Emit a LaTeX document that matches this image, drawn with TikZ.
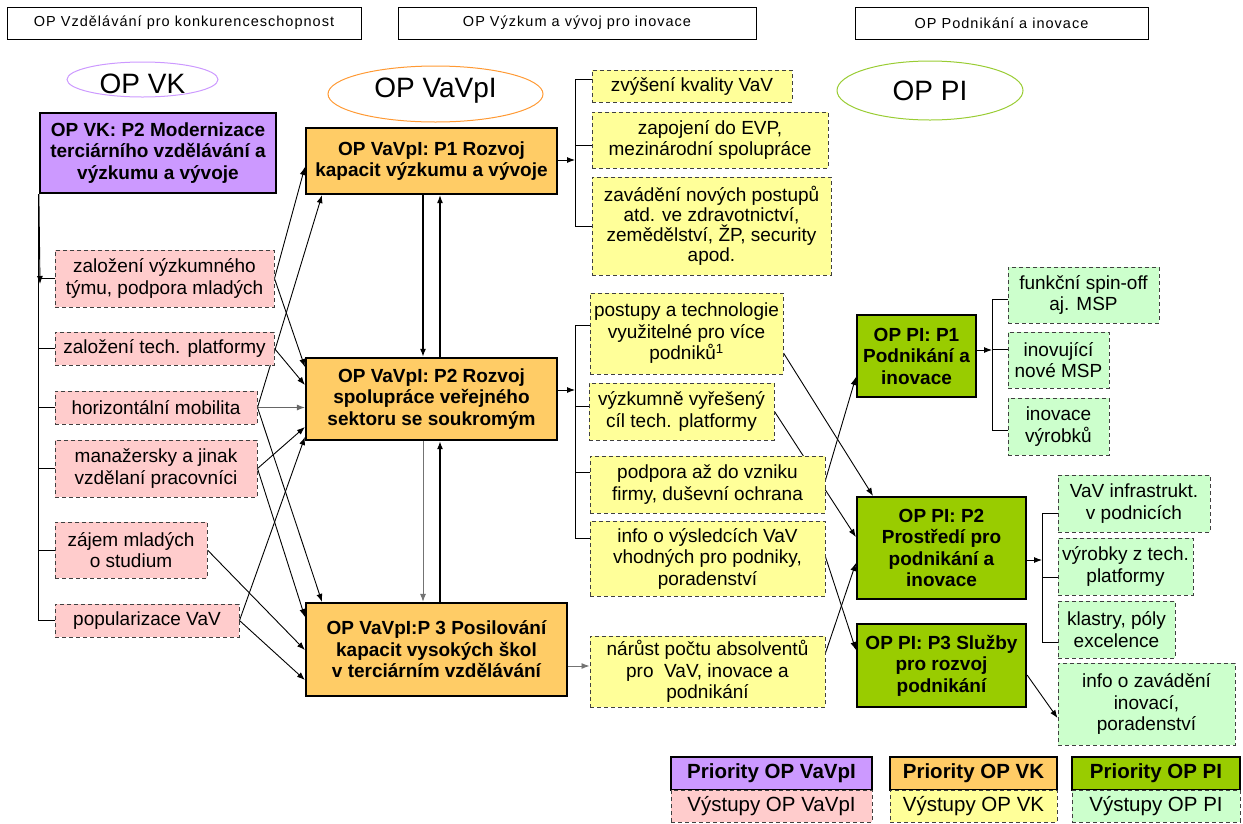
\documentclass[tikz,border=0pt]{standalone}
\usepackage{fontspec}
\setmainfont{Liberation Sans}
\newfontfamily\hdrfam[LetterSpace=7]{Liberation Sans}
\usetikzlibrary{arrows.meta,shapes.geometric,backgrounds}
\definecolor{cPurple}{HTML}{CC99FF}
\definecolor{cOrange}{HTML}{FFCC66}
\definecolor{cGreen}{HTML}{99CC00}
\definecolor{cPink}{HTML}{FFCCCC}
\definecolor{cYellow}{HTML}{FFFF99}
\definecolor{cLGreen}{HTML}{CCFFCC}
\definecolor{ePurple}{HTML}{CC99FF}
\definecolor{eOrange}{HTML}{FF9933}
\definecolor{eGreen}{HTML}{99CC33}
\newcommand\txtN{\fontsize{19}{21.5}\selectfont}
\newcommand\txtB{\fontsize{19}{21.5}\selectfont\bfseries}
\newcommand\txtH{\fontsize{14.5}{16}\hdrfam\selectfont}
\newcommand\txtE{\fontsize{28}{30}\selectfont}
\newcommand\txtL{\fontsize{20.5}{22}\selectfont}
\newcommand\mkbox[7]{\node[#2, minimum width={(#5-#3)*1pt}, minimum height={(#6-#4)*1pt}] (#1) at ({(#3+#5)/2},{(#4+#6)/2}) {#7};}
\tikzset{
  base/.style={rectangle, inner sep=0pt, align=center, font=\txtN},
  prio/.style={base, draw=black, line width=2.2pt, font=\txtB},
  outp/.style={base, draw=black!75, dash pattern=on 4pt off 3pt, line width=1pt},
  hdr/.style={base, draw=black, line width=1pt, font=\txtH},
  ell/.style={ellipse, line width=1pt, inner sep=0pt},
  arr/.style={-{Latex[length=8pt,width=6pt]}, line width=0.9pt},
  ln/.style={line width=0.9pt},
}
\begin{document}
\begin{tikzpicture}[x=1pt,y=-1pt]
\useasboundingbox (0,0) rectangle (1243,823);
% headers
\mkbox{H1}{hdr}{7}{7}{361}{39}{OP Vzdělávání pro konkurenceschopnost}
\mkbox{H2}{hdr}{398}{7}{756}{39}{OP Výzkum a vývoj pro inovace}
\mkbox{H3}{hdr}{855}{7}{1148}{39}{OP Podnikání a inovace}
% ellipses
\node[ell, draw=ePurple, minimum width=151pt, minimum height=35pt, label={[font=\txtE, yshift=-4pt]center:OP VK}] (E1) at (142.5,79.5) {};
\node[ell, draw=eOrange, minimum width=215pt, minimum height=56pt, label={[font=\txtE, yshift=3pt]center:OP VaVpI}] (E2) at (435.5,94) {};
\node[ell, draw=eGreen, minimum width=186pt, minimum height=59pt, label={[font=\txtE]center:OP PI}] (E3) at (930,90.5) {};
% left column
\mkbox{P}{prio,fill=cPurple}{40}{113}{276}{193}{OP VK: P2 Modernizace\\terciárního vzdělávání a\\výzkumu a vývoje}
\mkbox{L1}{outp,fill=cPink}{55}{250}{274}{307}{založení výzkumného\\týmu, podpora mladých}
\mkbox{L2}{outp,fill=cPink}{55}{332}{274}{365}{založení tech. platformy}
\mkbox{L3}{outp,fill=cPink}{55}{391}{257}{424}{horizontální mobilita}
\mkbox{L4}{outp,fill=cPink}{55}{440}{257}{497}{manažersky a jinak\\vzdělaní pracovníci}
\mkbox{L5}{outp,fill=cPink}{55}{522}{207}{578}{zájem mladých\\o studium}
\mkbox{L6}{outp,fill=cPink}{55}{604}{239}{637}{popularizace VaV}
% middle column
\mkbox{M1}{prio,fill=cOrange}{306}{128}{557}{194}{OP VaVpI: P1 Rozvoj\\kapacit výzkumu a vývoje}
\mkbox{M2}{prio,fill=cOrange}{306}{358}{557}{440}{OP VaVpI: P2 Rozvoj\\spolupráce veřejného\\sektoru se soukromým}
\mkbox{M3}{prio,fill=cOrange}{306}{603}{567}{696}{OP VaVpI:P 3 Posilování\\kapacit vysokých škol\\v terciárním vzdělávání}
% yellow outputs
\mkbox{Y1}{outp,fill=cYellow}{592}{70}{792}{102}{zvýšení kvality VaV}
\mkbox{Y2}{outp,fill=cYellow}{592}{112}{828}{168}{zapojení do EVP,\\mezinárodní spolupráce}
\mkbox{Y3}{outp,fill=cYellow,font=\fontsize{19}{20}\selectfont}{592}{177}{831}{275}{zavádění nových postupů\\atd. ve zdravotnictví,\\zemědělství, ŽP, security\\apod.}
\mkbox{Y4}{outp,fill=cYellow}{590}{293}{783}{374}{postupy a technologie\\využitelné pro více\\podniků\textsuperscript{1}}
\mkbox{Y5}{outp,fill=cYellow}{589}{383}{774}{440}{výzkumně vyřešený\\cíl tech. platformy}
\mkbox{Y6}{outp,fill=cYellow}{590}{456}{825}{513}{podpora až do vzniku\\firmy, duševní ochrana}
\mkbox{Y7}{outp,fill=cYellow}{590}{521}{825}{596}{info o výsledcích VaV\\vhodných pro podniky,\\poradenství}
\mkbox{Y8}{outp,fill=cYellow}{590}{636}{825}{707}{nárůst počtu absolventů\\pro\ \ VaV, inovace a\\podnikání}
% green priorities
\mkbox{G1}{prio,fill=cGreen}{857}{315}{976}{397}{OP PI: P1\\Podnikání a\\inovace}
\mkbox{G2}{prio,fill=cGreen}{857}{497}{1026}{599}{OP PI: P2\\Prostředí pro\\podnikání a\\inovace}
\mkbox{G3}{prio,fill=cGreen}{857}{624}{1026}{707}{OP PI: P3 Služby\\pro rozvoj\\podnikání}
% light green outputs
\mkbox{LG1}{outp,fill=cLGreen}{1008}{267}{1159}{323}{funkční spin-off\\aj. MSP}
\mkbox{LG2}{outp,fill=cLGreen}{1008}{332}{1109}{388}{inovující\\nové MSP}
\mkbox{LG3}{outp,fill=cLGreen}{1008}{398}{1109}{455}{inovace\\výrobků}
\mkbox{LG4}{outp,fill=cLGreen}{1058}{475}{1210}{532}{VaV infrastrukt.\\v podnicích}
\mkbox{LG5}{outp,fill=cLGreen}{1058}{538}{1193}{595}{výrobky z tech.\\platformy}
\mkbox{LG6}{outp,fill=cLGreen}{1058}{601}{1175}{658}{klastry, póly\\excelence}
\mkbox{LG7}{outp,fill=cLGreen}{1058}{663}{1235}{745}{info o zavádění\\inovací,\\poradenství}
% legend
\mkbox{K1}{prio,fill=cPurple,font=\txtL\bfseries}{671}{757}{872}{790}{Priority OP VaVpI}
\mkbox{K2}{outp,fill=cPink,font=\txtL}{671}{790}{872}{822}{Výstupy OP VaVpI}
\mkbox{K3}{prio,fill=cOrange,font=\txtL\bfseries}{890}{757}{1057}{790}{Priority OP VK}
\mkbox{K4}{outp,fill=cYellow,font=\txtL}{890}{790}{1057}{822}{Výstupy OP VK}
\mkbox{K5}{prio,fill=cGreen,font=\txtL\bfseries}{1072}{757}{1240}{790}{Priority OP PI}
\mkbox{K6}{outp,fill=cLGreen,font=\txtL}{1072}{790}{1240}{822}{Výstupy OP PI}
% connectors
\begin{pgfonlayer}{background}
% left bracket
\draw[ln] (P.south west) -- (P.south west |- L6.west) -- (L6.west);
\draw[arr] (P.south west) -- (40,284);
\foreach \n in {L1,L2,L3,L4,L5} \draw[ln] (P.south west |- \n.west) -- (\n.west);
% left -> middle
\draw[arr] (L1.east) -- (M1.west |- 0,167);
\draw[arr] (L1.east) -- (M2.west |- 0,367);
\draw[arr] (L2.east) -- (M2.west |- 0,385);
\draw[arr, draw=black!60] (L3.east) -- (L3.east -| M2.west);
\draw[arr] (L3.east) -- (M1.south -| 322,0);
\draw[arr] (L3.east) -- (M3.north -| 322,0);
\draw[arr] (L4.east) -- (M2.west |- 0,427);
\draw[arr] (L4.east) -- (M3.west |- 0,617);
\draw[arr] (L5.east) -- (M3.west |- 0,650);
\draw[arr] (L6.east) -- (M2.west |- 0,437);
\draw[arr] (L6.east) -- (M3.west |- 0,680);
% middle verticals
\draw[arr, line width=1.7pt] (M1.south -| 423,0) -- (M2.north -| 423,0);
\draw[arr, line width=1.3pt] (M2.north -| 440,0) -- (M1.south -| 440,0);
\draw[arr, draw=black!55, line width=1pt] (M2.south -| 423,0) -- (M3.north -| 423,0);
\draw[arr, line width=1.7pt] (M3.north -| 440,0) -- (M2.south -| 440,0);
% M1 bracket
\draw[arr] (M1.east |- 0,160) -- (575,160);
\draw[ln] (Y1.west |- 0,79) -- (575,79) -- (575,226) -- (Y3.west |- 0,226);
\draw[ln] (575,145) -- (Y2.west |- 0,145);
% M2 bracket
\draw[arr] (M2.east |- 0,390) -- (575,390);
\draw[ln] (Y4.west |- 0,325) -- (575,325) -- (575,538) -- (Y7.west |- 0,538);
\draw[ln] (575,406) -- (Y5.west |- 0,406);
\draw[ln] (575,472) -- (Y6.west |- 0,472);
% M3 -> Y8
\draw[arr, draw=black!55] (M3.east |- 0,666) -- (Y8.west |- 0,666);
% yellow -> green
\draw[arr] (Y4.east |- 0,353) -- (G2.north -| 873,0);
\draw[arr] (Y5.east) -- (G2.west |- 0,537);
\draw[arr] (Y6.east |- 0,480) -- (G1.west |- 0,377);
\draw[arr] (Y7.east |- 0,557) -- (G3.west |- 0,650);
\draw[arr] (Y8.east |- 0,653) -- (G2.west |- 0,563);
% G1 bracket
\draw[arr] (G1.east |- 0,350) -- (992,350);
\draw[ln] (LG1.west |- 0,299) -- (992,299) -- (992,430) -- (LG3.west |- 0,430);
\draw[ln] (992,349) -- (LG2.west |- 0,349);
% G2 bracket
\draw[arr] (G2.east |- 0,560) -- (1042,560);
\draw[ln] (LG4.west |- 0,513) -- (1042,513) -- (1042,642) -- (LG6.west |- 0,642);
\draw[ln] (1042,577) -- (LG5.west |- 0,577);
% G3 -> LG7
\draw[arr] (G3.east |- 0,675) -- (LG7.west |- 0,718);
\end{pgfonlayer}
\end{tikzpicture}
\end{document}
